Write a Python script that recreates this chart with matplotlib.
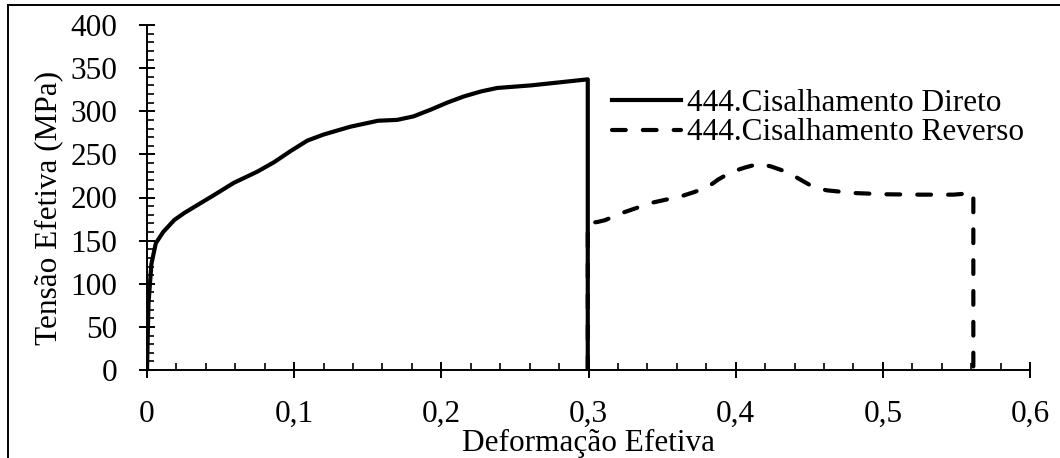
import matplotlib
matplotlib.use("Agg")
import matplotlib.pyplot as plt
from matplotlib.ticker import MultipleLocator, FuncFormatter
from matplotlib.lines import Line2D

plt.rcParams['font.family'] = ['Liberation Serif', 'DejaVu Serif']

# Data
direto_x = [0.0, 0.001, 0.003, 0.006, 0.011, 0.0186, 0.0253, 0.034, 0.0457, 0.059,
            0.075, 0.0864, 0.0977, 0.109, 0.120, 0.138, 0.157, 0.170, 0.181, 0.193,
            0.204, 0.215, 0.227, 0.238, 0.261, 0.283, 0.2995, 0.2995]
direto_y = [0, 77, 123, 147, 160, 174, 182, 191, 203, 217,
            230, 241, 254, 266, 273, 282, 289, 290, 294, 302,
            310, 317, 323, 327, 330, 334, 337, 0]

reverso_x = [0.2995, 0.2995, 0.3063, 0.311, 0.3244, 0.3425, 0.363, 0.372, 0.381, 0.388,
             0.397, 0.406, 0.416, 0.424, 0.435, 0.444, 0.453, 0.462, 0.480, 0.503,
             0.526, 0.548, 0.5615, 0.5615]
reverso_y = [0, 170, 171.7, 173.6, 183, 193.7, 201.4, 206.4, 212, 220.7,
             229.5, 234.6, 239.2, 236, 229.5, 220.7, 212, 208.3, 205.2, 203.7,
             203.3, 203.3, 205.2, 0]

labels = ["444.Cisalhamento Direto", "444.Cisalhamento Reverso"]
xlabel = "Deformação Efetiva"
ylabel = "Tensão Efetiva (MPa)"

W, H = 1060, 458
fig = plt.figure(figsize=(W / 100, H / 100), dpi=100)
ax = fig.add_axes([147 / W, 1 - 370 / H, (1030 - 147) / W, (370 - 25) / H])

lw = 3.0
ax.plot(direto_x, direto_y, color='black', lw=lw, solid_joinstyle='round',
        label=labels[0])
ax.plot(reverso_x, reverso_y, color='black', lw=lw, linestyle=(0, (3.3, 4.1)),
        dash_capstyle='round', label=labels[1])

ax.set_xlim(0, 0.6)
ax.set_ylim(0, 400)
ax.xaxis.set_major_locator(MultipleLocator(0.1))
ax.xaxis.set_minor_locator(MultipleLocator(0.02))
ax.yaxis.set_major_locator(MultipleLocator(50))
ax.yaxis.set_minor_locator(MultipleLocator(10))
ax.xaxis.set_major_formatter(FuncFormatter(lambda v, p: ('%g' % round(v, 2)).replace('.', ',')))

for s in ['top', 'right']:
    ax.spines[s].set_visible(False)
for s in ['left', 'bottom']:
    ax.spines[s].set_linewidth(1.4)

fs = 22.5
ax.tick_params(which='major', direction='inout', length=11, width=1.4,
               labelsize=fs)
ax.tick_params(axis='x', which='major', pad=16)
ax.tick_params(axis='y', which='major', pad=16)
ax.tick_params(which='minor', direction='in', length=5, width=1.2)

ax.set_xlabel(xlabel, fontsize=fs, labelpad=0)
ax.set_ylabel(ylabel, fontsize=fs, labelpad=4)
ax.yaxis.set_label_coords(-0.095, 0.47)

leg = ax.legend(loc='upper left', bbox_to_anchor=(0.527, 0.815), frameon=False,
                fontsize=fs, handlelength=2.2, handletextpad=0.2,
                labelspacing=0.02, borderaxespad=0, borderpad=0)

# figure border (left and top visible)
fig.add_artist(Line2D([8 / W, 8 / W], [0, 1 - 5 / H], transform=fig.transFigure,
                      color='black', lw=1.4))
fig.add_artist(Line2D([8 / W, 1], [1 - 5 / H, 1 - 5 / H], transform=fig.transFigure,
                      color='black', lw=1.4))

fig.savefig('out.png', dpi=100)
